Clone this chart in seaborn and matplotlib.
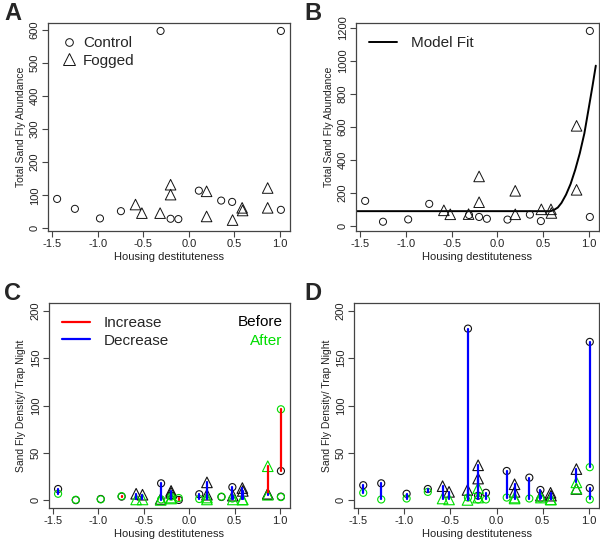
import numpy as np
import pandas as pd
import matplotlib
matplotlib.use("Agg")
import matplotlib.pyplot as plt
from matplotlib.lines import Line2D
import seaborn as sns

# housing destituteness of each trap
ctrl_x = [-1.445, -1.25, -0.975, -0.745, -0.31, -0.20, -0.115, 0.11, 0.355, 0.475, 1.01, 1.01]
fog_x = [-0.585, -0.515, -0.315, -0.20, -0.20, 0.195, 0.195, 0.48, 0.585, 0.59, 0.865, 0.865]

# panel A: total abundance
ctrl_a = [89, 59, 30, 52, 597, 29, 28, 114, 84, 80, 597, 56]
fog_a = [72, 46, 46, 132, 102, 112, 36, 25, 62, 54, 122, 62]

# panel B: total abundance + model fit
ctrl_b = [152, 26, 40, 134, 67, 55, 44, 39, 69, 30, 1180, 55]
fog_b = [95, 71, 72, 300, 144, 213, 71, 101, 101, 79, 606, 219]
fit_x = [-1.6, 0.58, 0.62, 0.66, 0.70, 0.75, 0.80, 0.85, 0.90, 0.95, 1.00, 1.04, 1.075]
fit_y = [90, 90, 98, 112, 140, 190, 255, 340, 440, 560, 720, 850, 970]

# panel C: density before / after
ctrl_c_before = [12, 0.3, 1.5, 4, 18, 5, 0.5, 6.5, 3.6, 14, 31, 4]
ctrl_c_after = [7, 0.7, 1.1, 4.5, 1, 4, 2.5, 1.5, 4.0, 2, 96, 3.5]
fog_c_before = [7, 6, 1.5, 10, 8, 19, 6, 5, 13, 10, 7, 6.5]
fog_c_after = [1, 1, 0.5, 2, 3, 3, 1, 1, 1, 1, 36, 6]

# panel D: density before / after
ctrl_d_before = [16, 18, 7, 12, 181, 5, 8, 31, 24, 11, 167, 13]
ctrl_d_after = [8, 1, 2, 9, 3, 1, 1, 3, 2, 2, 35, 1]
fog_d_before = [15, 9, 11, 37, 23, 17, 9, 5, 8, 5, 33, 12]
fog_d_after = [2, 1, 0.5, 13, 3, 3, 2, 3, 1, 1, 19, 12.5]

xticks = [-1.5, -1.0, -0.5, 0.0, 0.5, 1.0]
xticklabels = ["-1.5", "-1.0", "-0.5", "0.0", "0.5", "1.0"]

GREEN = "#00dd00"
GREY = "#444444"
FONT = ["Liberation Sans", "DejaVu Sans"]

sns.set_style("ticks")
plt.rcParams["font.family"] = FONT

W, H = 600, 549
fig = plt.figure(figsize=(W / 100, H / 100), dpi=100)

CIRC_S = 26
TRI_S = 58


def add_ax(l, r, t, b):
    return fig.add_axes([l / W, 1 - b / H, (r - l) / W, (b - t) / H])


def style(ax, yticks, ylim, ylabel):
    ax.set_xlim(-1.545, 1.11)
    ax.set_ylim(*ylim)
    ax.set_xticks(xticks)
    ax.set_xticklabels(xticklabels)
    ax.set_yticks(yticks)
    ax.set_yticklabels([str(v) for v in yticks], rotation=90, va="center")
    ax.tick_params(direction="out", length=4, width=0.8, color=GREY,
                   labelsize=8, labelcolor="#222222", pad=2)
    for s in ax.spines.values():
        s.set_visible(True)
        s.set_color(GREY)
        s.set_linewidth(0.9)
    ax.set_xlabel("Housing destituteness", fontsize=8, color="#222222", labelpad=2)
    ax.set_ylabel(ylabel, fontsize=7.5, color="#222222", labelpad=3)


def totals(ax, cvals, fvals):
    df = pd.DataFrame({
        "x": ctrl_x + fog_x,
        "y": cvals + fvals,
        "grp": ["Control"] * len(ctrl_x) + ["Fogged"] * len(fog_x),
    })
    sns.scatterplot(data=df[df.grp == "Control"], x="x", y="y", marker="o", s=CIRC_S,
                    facecolor="none", edgecolor="#111111", linewidth=0.7, ax=ax, zorder=3)
    sns.scatterplot(data=df[df.grp == "Fogged"], x="x", y="y", marker="^", s=TRI_S,
                    facecolor="none", edgecolor="#111111", linewidth=0.7, ax=ax, zorder=3)


def density(ax, cb, ca, fb, fa):
    df = pd.DataFrame({
        "x": ctrl_x + fog_x,
        "before": cb + fb,
        "after": ca + fa,
        "trap": ["Control"] * len(ctrl_x) + ["Fogged"] * len(fog_x),
    })
    for col, colr in [("before", "#111111"), ("after", GREEN)]:
        sub_c = df[df.trap == "Control"]
        sub_f = df[df.trap == "Fogged"]
        sns.scatterplot(data=sub_c, x="x", y=col, marker="o", s=CIRC_S, facecolor="none",
                        edgecolor=colr, linewidth=0.8, ax=ax, zorder=3)
        sns.scatterplot(data=sub_f, x="x", y=col, marker="^", s=TRI_S, facecolor="none",
                        edgecolor=colr, linewidth=0.8, ax=ax, zorder=3)
    up = df[df.after > df.before]
    dn = df[df.after <= df.before]
    ax.vlines(up.x, up.before, up.after, colors="red", linewidth=1.6,
              capstyle="round", zorder=4)
    ax.vlines(dn.x, dn.before, dn.after, colors="blue", linewidth=1.6,
              capstyle="round", zorder=4)


leg_kw = dict(loc="upper left", frameon=False, fontsize=11, bbox_to_anchor=(0.0, 1.0),
              borderaxespad=0.45, labelspacing=0.25)

# A
axA = add_ax(48, 290, 23, 231)
totals(axA, ctrl_a, fog_a)
style(axA, [0, 100, 200, 300, 400, 500, 600], (-8, 621), "Total Sand Fly Abundance")
hA = [Line2D([], [], marker="o", ls="none", mfc="none", mec="#111111", ms=5.5, mew=0.7),
      Line2D([], [], marker="^", ls="none", mfc="none", mec="#111111", ms=8, mew=0.7)]
axA.legend(hA, ["Control", "Fogged"], handlelength=1.0, handletextpad=0.45, **leg_kw)

# B
axB = add_ax(356, 599, 23, 231)
totals(axB, ctrl_b, fog_b)
sns.lineplot(x=fit_x, y=fit_y, color="black", linewidth=1.4, ax=axB, zorder=2)
style(axB, [0, 200, 400, 600, 800, 1000, 1200], (-30, 1228), "Total Sand Fly Abundance")
axB.legend([Line2D([], [], color="black", lw=1.4)], ["Model Fit"],
           handlelength=1.85, handletextpad=0.9, **leg_kw)

# C
axC = add_ax(49, 290, 303, 508)
density(axC, ctrl_c_before, ctrl_c_after, fog_c_before, fog_c_after)
style(axC, [0, 50, 100, 150, 200], (-8, 208), "Sand Fly Density/ Trap Night")
axC.legend([Line2D([], [], color="red", lw=1.6), Line2D([], [], color="blue", lw=1.6)],
           ["Increase", "Decrease"], handlelength=1.85, handletextpad=0.9, **leg_kw)
axC.text(0.97, 0.905, "Before", transform=axC.transAxes, ha="right", va="center",
         fontsize=11, color="black")
axC.text(0.97, 0.815, "After", transform=axC.transAxes, ha="right", va="center",
         fontsize=11, color=GREEN)

# D
axD = add_ax(354, 599, 303, 508)
density(axD, ctrl_d_before, ctrl_d_after, fog_d_before, fog_d_after)
style(axD, [0, 50, 100, 150, 200], (-8, 208), "Sand Fly Density/ Trap Night")

for lab, px, py in [("A", 4, 2), ("B", 304, 2), ("C", 4, 282), ("D", 304, 282)]:
    fig.text(px / W, 1 - py / H, lab, fontsize=17, fontweight="bold", ha="left", va="top")

fig.savefig("out.png", dpi=100)
